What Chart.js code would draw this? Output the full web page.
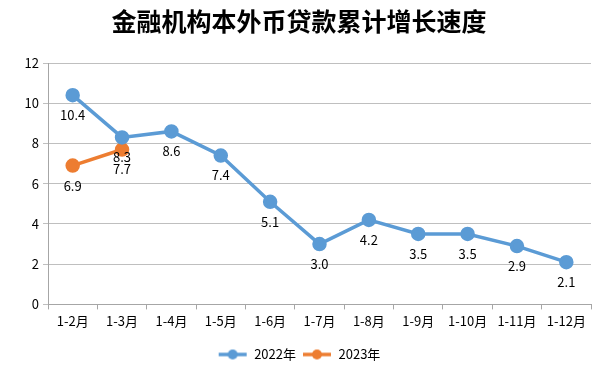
<!DOCTYPE html>
<html>
<head>
<meta charset="utf-8">
<script src="https://cdn.jsdelivr.net/npm/chart.js@4"></script>
<style>
  html, body { margin: 0; padding: 0; background: #fff; }
  #wrap { width: 600px; height: 385px; }
</style>
</head>
<body>
<div id="wrap"><canvas id="c"></canvas></div>
<script>
const months = ['1-2月', '1-3月', '1-4月', '1-5月', '1-6月', '1-7月', '1-8月', '1-9月', '1-10月', '1-11月', '1-12月'];
const growth2022 = [10.4, 8.3, 8.6, 7.4, 5.1, 3.0, 4.2, 3.5, 3.5, 2.9, 2.1];
const growth2023 = [6.9, 7.7];
const yTicks = [0, 2, 4, 6, 8, 10, 12];

const BLUE = '#5B9BD5';
const ORANGE = '#ED7D31';
const FONT = "'Noto Sans CJK SC', 'DejaVu Sans', sans-serif";

// little line-with-dot image for the legend
function legendIcon(color) {
    const cv = document.createElement('canvas');
    cv.width = 30;
    cv.height = 12;
    const g = cv.getContext('2d');
    g.strokeStyle = color;
    g.lineWidth = 3.5;
    g.beginPath();
    g.moveTo(1, 6);
    g.lineTo(29, 6);
    g.stroke();
    g.fillStyle = color;
    g.beginPath();
    g.arc(15, 6, 5, 0, Math.PI * 2);
    g.fill();
    return cv;
}

const valueLabels = {
    id: 'valueLabels',
    afterDatasetsDraw(chart) {
        const ctx = chart.ctx;
        ctx.save();
        ctx.font = '13px ' + FONT;
        ctx.fillStyle = '#000';
        ctx.textAlign = 'center';
        ctx.textBaseline = 'middle';
        chart.data.datasets.forEach((ds, i) => {
            const meta = chart.getDatasetMeta(i);
            meta.data.forEach((pt, j) => {
                ctx.fillText(ds.data[j].toFixed(1), pt.x, pt.y + 20);
            });
        });
        ctx.restore();
    }
};

new Chart(document.getElementById('c'), {
    type: 'line',
    data: {
        labels: months,
        datasets: [{
            label: '2022年',
            data: growth2022,
            borderColor: BLUE,
            backgroundColor: BLUE,
            borderWidth: 3.5,
            pointRadius: 5.5,
            pointHoverRadius: 5.5,
            fill: false
        }, {
            label: '2023年',
            data: growth2023,
            borderColor: ORANGE,
            backgroundColor: ORANGE,
            borderWidth: 3.5,
            pointRadius: 5.5,
            pointHoverRadius: 5.5,
            fill: false
        }]
    },
    options: {
        responsive: true,
        maintainAspectRatio: false,
        animation: false,
        layout: { padding: { left: 0, right: 2, top: 6, bottom: 14 } },
        plugins: {
            title: {
                display: true,
                text: '金融机构本外币贷款累计增长速度',
                color: '#000',
                font: { family: FONT, size: 25, weight: 'bold' },
                padding: { top: 0, bottom: 27 }
            },
            legend: {
                position: 'bottom',
                labels: {
                    color: '#000',
                    font: { family: FONT, size: 13 },
                    usePointStyle: true,
                    pointStyleWidth: 30,
                    padding: 6,
                    generateLabels(chart) {
                        return chart.data.datasets.map((ds, i) => ({
                            text: ds.label,
                            pointStyle: legendIcon(ds.borderColor),
                            fillStyle: ds.borderColor,
                            strokeStyle: ds.borderColor,
                            lineWidth: 0,
                            hidden: false,
                            datasetIndex: i
                        }));
                    }
                }
            },
            tooltip: { enabled: false }
        },
        scales: {
            x: {
                offset: true,
                afterFit(scale) {
                    scale.height += 9;
                },
                grid: {
                    offset: true,
                    drawOnChartArea: false,
                    drawTicks: true,
                    tickLength: 5,
                    color: '#a6a6a6'
                },
                border: { color: '#a6a6a6', width: 1 },
                ticks: {
                    color: '#000',
                    font: { family: FONT, size: 13 },
                    maxRotation: 0,
                    autoSkip: false,
                    padding: 4
                }
            },
            y: {
                min: 0,
                max: 12,
                afterBuildTicks(scale) {
                    scale.ticks = yTicks.map(v => ({ value: v }));
                },
                afterFit(scale) {
                    scale.width = 48;
                },
                grid: {
                    color: '#bfbfbf',
                    tickLength: 5
                },
                border: { color: '#a6a6a6', width: 1 },
                ticks: {
                    color: '#000',
                    font: { family: FONT, size: 13 },
                    padding: 4
                }
            }
        }
    },
    plugins: [valueLabels]
});
</script>
</body>
</html>
